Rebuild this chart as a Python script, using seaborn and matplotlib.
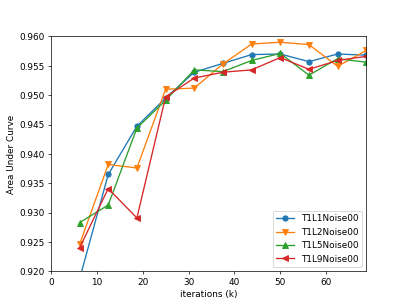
import numpy as np
import pandas as pd
import matplotlib
matplotlib.use("Agg")
import matplotlib.pyplot as plt
import seaborn as sns

# iterations in thousands
iterations = [6.25, 12.5, 18.75, 25, 31.25, 37.5, 43.75, 50, 56.25, 62.5, 68.75]

auc_l1 = [0.9187, 0.9365, 0.9447, 0.9495, 0.9539, 0.9554, 0.9569, 0.9570, 0.9557, 0.9570, 0.9568]
auc_l2 = [0.9246, 0.9382, 0.9376, 0.9510, 0.9512, 0.9553, 0.9587, 0.9590, 0.9586, 0.9549, 0.9576]
auc_l5 = [0.9283, 0.9313, 0.9444, 0.9491, 0.9543, 0.9540, 0.9559, 0.9571, 0.9534, 0.9562, 0.9556]
auc_l9 = [0.9240, 0.9341, 0.9291, 0.9497, 0.9529, 0.9539, 0.9543, 0.9564, 0.9544, 0.9559, 0.9566]

labels = ["T1L1Noise00", "T1L2Noise00", "T1L5Noise00", "T1L9Noise00"]
markers = ["o", "v", "^", "<"]
colors = sns.color_palette("tab10", 4)

fig, ax = plt.subplots(figsize=(6.4, 4.8), dpi=407 / 6.4)

for vals, lab, mk, col in zip([auc_l1, auc_l2, auc_l5, auc_l9], labels, markers, colors):
    sns.lineplot(x=iterations, y=vals, marker=mk, color=col, label=lab,
                 markeredgecolor=col, markeredgewidth=1, markersize=6, ax=ax)

ax.set_xlim(0, 68.75)
ax.set_ylim(0.920, 0.960)
ax.set_xlabel("iterations (k)")
ax.set_ylabel("Area Under Curve")
ax.legend(loc="lower right")

plt.savefig("out.png")
